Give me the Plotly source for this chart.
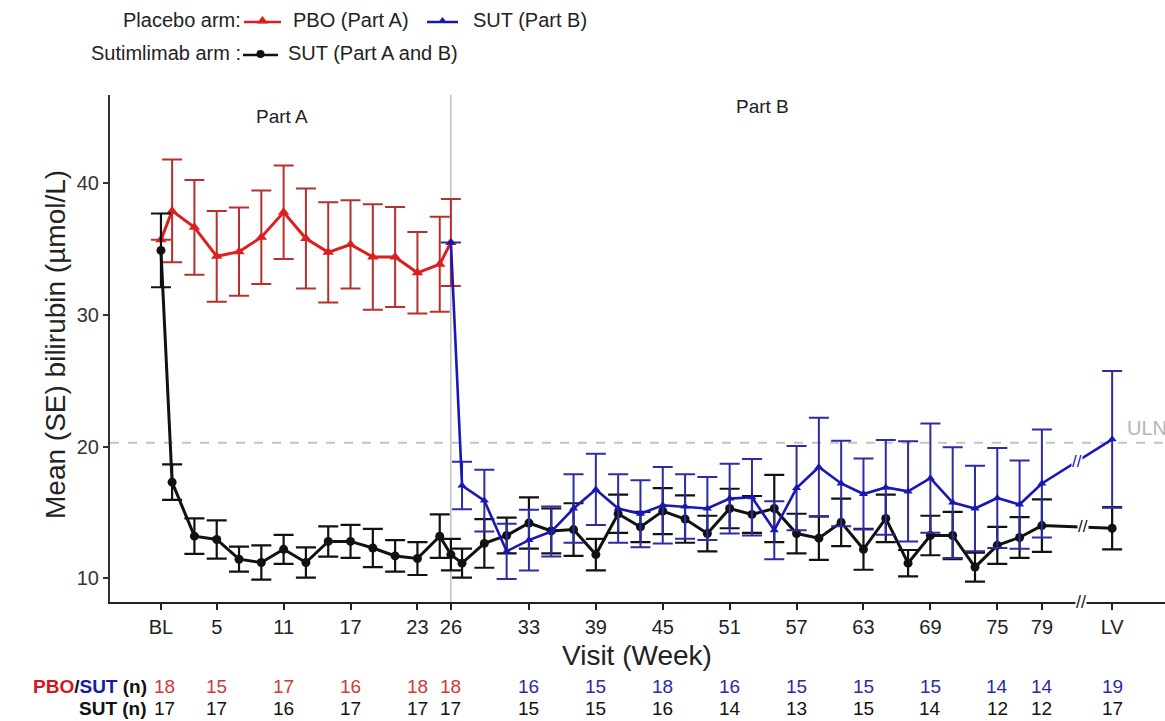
import plotly.graph_objects as go

# ---------------- data ----------------
LV_POS = 85.3  # plotting position of last visit (after axis break)

pbo_weeks = [0, 1, 3, 5, 7, 9, 11, 13, 15, 17, 19, 21, 23, 25, 26]
pbo_mean = [35.7, 37.9, 36.65, 34.45, 34.8, 35.9, 37.8, 35.8, 34.75, 35.35, 34.4, 34.4, 33.2, 33.85, 35.5]
pbo_se = [None, 3.9, 3.6, 3.45, 3.35, 3.55, 3.55, 3.8, 3.8, 3.35, 4.0, 3.8, 3.1, 3.6, 3.3]

sutb_weeks = [26, 27, 29, 31, 33, 35, 37, 39, 41, 43, 45, 47, 49, 51, 53, 55, 57, 59, 61, 63, 65, 67, 69, 71, 73, 75, 77, 79, "LV"]
sutb_mean = [35.5, 17.05, 15.9, 12.05, 12.9, 13.55, 15.3, 16.75, 15.3, 14.9, 15.55, 15.45, 15.3, 16.05, 16.15, 13.65,
             16.85, 18.45, 17.2, 16.4, 16.9, 16.6, 17.6, 15.75, 15.3, 16.1, 15.6, 17.2, 20.55]
sutb_se = [None, 1.8, 2.35, 2.1, 2.3, 1.9, 2.6, 2.7, 2.6, 2.55, 2.9, 2.45, 2.4, 2.65, 2.9, 2.2,
           3.2, 3.75, 3.25, 2.7, 3.6, 3.8, 4.15, 4.2, 3.25, 3.8, 3.35, 4.1, 5.2]

sut_weeks = [0, 1, 3, 5, 7, 9, 11, 13, 15, 17, 19, 21, 23, 25, 26, 27, 29, 31, 33, 35, 37, 39, 41, 43, 45, 47, 49,
             51, 53, 55, 57, 59, 61, 63, 65, 67, 69, 71, 73, 75, 77, 79, "LV"]
sut_mean = [34.9, 17.3, 13.2, 12.95, 11.45, 11.2, 12.2, 11.2, 12.8, 12.8, 12.3, 11.7, 11.5, 13.2, 11.8, 11.15, 12.65,
            13.25, 14.2, 13.6, 13.7, 11.8, 14.9, 13.9, 15.1, 14.5, 13.4, 15.3, 14.85, 15.3, 13.4, 13.05, 14.25, 12.2,
            14.55, 11.15, 13.25, 13.25, 10.85, 12.5, 13.1, 14.0, 13.8]
sut_se = [2.8, 1.35, 1.35, 1.45, 0.95, 1.3, 1.1, 1.15, 1.15, 1.25, 1.45, 1.2, 1.25, 1.65, 1.2, 1.1, 1.85, 1.35, 1.95,
          1.7, 2.0, 1.2, 1.45, 1.15, 1.75, 1.8, 1.35, 1.5, 1.4, 2.55, 1.5, 1.65, 1.8, 1.55, 1.8, 1.0, 1.5, 1.8, 1.1,
          1.4, 1.55, 2.0, 1.6]

tick_weeks = [0, 5, 11, 17, 23, 26, 33, 39, 45, 51, 57, 63, 69, 75, 79, "LV"]
tick_labels = ["BL", "5", "11", "17", "23", "26", "33", "39", "45", "51", "57", "63", "69", "75", "79", "LV"]
n_pbo_sut = [18, 15, 17, 16, 18, 18, 16, 15, 18, 16, 15, 15, 15, 14, 14, 19]
n_sut = [17, 17, 16, 17, 17, 17, 15, 15, 16, 14, 13, 15, 14, 12, 12, 17]
ULN = 20.3

# ---------------- styling ----------------
W, H = 1165, 721
FONT = "Arial, Liberation Sans, sans-serif"
RED, RED_ERR = "#dc1f1f", "#b8302c"
BLUE, BLUE_ERR = "#1818b4", "#2c2ca6"
BLACK = "#111111"
RED_N, BLUE_N = "#cc3a3a", "#2a2aa8"


def xpos(w):
    return LV_POS if w == "LV" else w


def fx(px):
    return px / W


def fy(py):
    return 1 - py / H


def note(text, x, y, xref="paper", yref="paper", xanchor="center", yanchor="middle", size=19, color="#222", **kw):
    d = dict(text=text, x=x, y=y, xref=xref, yref=yref, xanchor=xanchor, yanchor=yanchor,
             showarrow=False, font=dict(size=size, color=color))
    d.update(kw)
    return d


X_DOMAIN = [fx(110), 1.0]
Y_DOMAIN = [fy(602), fy(95)]
X_RANGE = [-4.57, 90.04]
Y_RANGE = [8.2, 46.7]

fig = go.Figure()

# red PBO Part A
fig.add_trace(go.Scatter(
    x=[xpos(w) for w in pbo_weeks], y=pbo_mean, mode="lines+markers",
    line=dict(color=RED, width=3), marker=dict(symbol="triangle-up", size=10, color=RED),
    error_y=dict(type="data", array=pbo_se, visible=True, color=RED_ERR, thickness=2, width=10),
    showlegend=False, hoverinfo="skip"))

# black SUT Part A and B
fig.add_trace(go.Scatter(
    x=[xpos(w) for w in sut_weeks], y=sut_mean, mode="lines+markers",
    line=dict(color=BLACK, width=3), marker=dict(symbol="circle", size=9, color=BLACK),
    error_y=dict(type="data", array=sut_se, visible=True, color=BLACK, thickness=2.2, width=10),
    showlegend=False, hoverinfo="skip"))

# blue SUT Part B
fig.add_trace(go.Scatter(
    x=[xpos(w) for w in sutb_weeks], y=sutb_mean, mode="lines+markers",
    line=dict(color=BLUE, width=2.6), marker=dict(symbol="triangle-up", size=8, color=BLUE),
    error_y=dict(type="data", array=sutb_se, visible=True, color=BLUE_ERR, thickness=2, width=10),
    showlegend=False, hoverinfo="skip"))

# legend samples on a pixel-space overlay axis
legend_items = [
    (244, 281, 22, RED, "triangle-up", 10),
    (427, 458, 22, BLUE, "triangle-up", 8),
    (243, 278, 55, BLACK, "circle", 8),
]
for x0, x1, yy, col, sym, sz in legend_items:
    fig.add_trace(go.Scatter(
        x=[x0, x1], y=[yy, yy], mode="lines", line=dict(color=col, width=2.5),
        xaxis="x2", yaxis="y2", showlegend=False, hoverinfo="skip"))
    fig.add_trace(go.Scatter(
        x=[(x0 + x1) / 2], y=[yy - 1], mode="markers", marker=dict(symbol=sym, size=sz, color=col),
        xaxis="x2", yaxis="y2", showlegend=False, hoverinfo="skip"))

ann = []
# legend texts
ann.append(note("Placebo arm:", fx(243), fy(20), xanchor="right", size=20))
ann.append(note("PBO (Part A)", fx(291), fy(20), xanchor="left", size=20))
ann.append(note("SUT (Part B)", fx(471), fy(20), xanchor="left", size=20))
ann.append(note("Sutimlimab arm :", fx(243), fy(53), xanchor="right", size=20))
ann.append(note("SUT (Part A and B)", fx(286), fy(53), xanchor="left", size=20))

# part labels
ann.append(note("Part A", 10.85, fy(116), xref="x", size=19))
ann.append(note("Part B", 53.9, fy(107), xref="x", size=19))

# ULN label
ann.append(note("ULN", fx(1125), ULN, yref="y", xanchor="left", yanchor="bottom", yshift=2, size=20,
                color="#b5b5b5"))

# axis titles
ann.append(note("Mean (SE) bilirubin (\u00b5mol/L)", fx(55), fy(345), textangle=-90, size=28))
ann.append(note("Visit (Week)", fx(637), fy(655), size=28))

# break marks on last segments (midway between wk79 and LV)
i79b = sutb_weeks.index(79)
ann.append(note("//", (79 + LV_POS) / 2, (sutb_mean[i79b] + sutb_mean[-1]) / 2, xref="x", yref="y",
                bgcolor="white", borderpad=0, size=17, color=BLUE))
i79 = sut_weeks.index(79)
ann.append(note("//", (79 + LV_POS) / 2 + 0.5, (sut_mean[i79] + sut_mean[-1]) / 2, xref="x", yref="y",
                bgcolor="white", borderpad=0, size=17, color=BLACK))
# axis break
ann.append(note("//", 82.5, Y_DOMAIN[0], xref="x", bgcolor="white", borderpad=0, size=18, color="#222"))

# n table
ann.append(note("<b><span style='color:#d0181c'>PBO</span>/<span style='color:#1a1aa8'>SUT</span> (n)</b>",
                fx(149), fy(686), xanchor="right", size=19, color="#111"))
ann.append(note("<b>SUT (n)</b>", fx(149), fy(708), xanchor="right", size=19, color="#111"))
for i, w in enumerate(tick_weeks):
    col = RED_N if (w != "LV" and w <= 26) else BLUE_N
    shift = 4 if w == 0 else 0
    ann.append(note(str(n_pbo_sut[i]), xpos(w), fy(686), xref="x", size=19, color=col, xshift=shift))
    ann.append(note(str(n_sut[i]), xpos(w), fy(708), xref="x", size=19, color="#111", xshift=shift))

shapes = [
    dict(type="line", xref="paper", yref="y", x0=X_DOMAIN[0], x1=1, y0=ULN, y1=ULN,
         line=dict(color="#c4c4c4", width=2, dash="dash"), layer="below"),
    dict(type="line", xref="x", yref="paper", x0=26, x1=26, y0=Y_DOMAIN[0], y1=Y_DOMAIN[1],
         line=dict(color="#a0a0a0", width=1), layer="below"),
]

fig.update_layout(
    width=W, height=H, margin=dict(l=0, r=0, t=0, b=0, autoexpand=False),
    paper_bgcolor="white", plot_bgcolor="rgba(0,0,0,0)",
    font=dict(family=FONT, color="#222"),
    showlegend=False,
    xaxis=dict(domain=X_DOMAIN, range=X_RANGE, showgrid=False, zeroline=False, showline=True,
               linecolor="#222", linewidth=2, ticks="outside", ticklen=6, tickwidth=1.5, tickcolor="#222",
               tickvals=[xpos(w) for w in tick_weeks], ticktext=tick_labels,
               tickfont=dict(size=20, color="#222")),
    yaxis=dict(domain=Y_DOMAIN, range=Y_RANGE, showgrid=False, zeroline=False, showline=True,
               linecolor="#333", linewidth=2, ticks="outside", ticklen=5, tickwidth=1.5, tickcolor="#333",
               tickvals=[10, 20, 30, 40], tickfont=dict(size=20, color="#333")),
    xaxis2=dict(domain=[0, 1], range=[0, W], visible=False, anchor="y2"),
    yaxis2=dict(domain=[0, 1], range=[H, 0], visible=False, anchor="x2"),
    annotations=ann, shapes=shapes,
)

fig.write_html("out.html")
